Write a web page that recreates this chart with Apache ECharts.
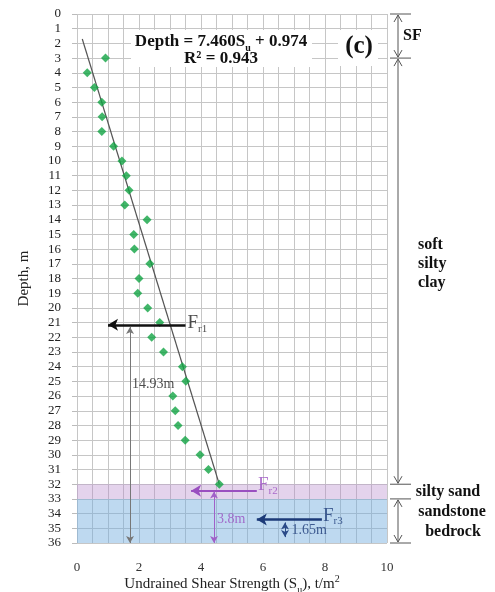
<!DOCTYPE html>
<html>
<head>
<meta charset="utf-8">
<script src="https://cdn.jsdelivr.net/npm/echarts@6/dist/echarts.min.js"></script>
<style>
html,body{margin:0;padding:0;background:#fff;}
#main{width:495px;height:592px;}
</style>
</head>
<body>
<div id="main"></div>
<script>
// measured points: depth (m) and undrained shear strength Su (t/m2)
var depths = [3,4,5,6,7,8,9,10,11,12,13,14,15,16,17,18,19,20,21,22,23,24,25,26,27,28,29,30,31,32];
var su = [0.92,0.33,0.56,0.80,0.81,0.80,1.18,1.45,1.59,1.68,1.54,2.26,1.83,1.85,2.35,2.00,1.96,2.28,2.67,2.41,2.79,3.40,3.51,3.09,3.17,3.26,3.49,3.97,4.24,4.59];

// trend line ends as drawn
var trendSu = [0.17, 4.59];
var trendDepth = [1.7, 32];

// soil layers (depth ranges)
var sandLayer = [32, 33];
var rockLayer = [33, 36];

// force arrows [fromSu, toSu, depth]
var fr1 = [3.5, 1.0, 21.15];
var fr2 = [5.8, 3.68, 32.45];
var fr3 = [7.9, 5.8, 34.4];
// dimension arrows [su, fromDepth, toDepth]
var dim1 = [1.71, 21.3, 36];
var dim2 = [4.42, 32.5, 36];
var dim3 = [6.71, 34.6, 35.6];

// right side brackets
var bracketTicks = [0, 3, 32, 33, 36];
var brackets = [[0, 3], [3, 32], [33, 36]];

var serif = 'Liberation Serif';

var data = [];
for (var i = 0; i < depths.length; i++) {
    data.push([su[i], depths[i]]);
}

function arrowLine(a, color, width, both) {
    return [
        {coord: [a[0], a[2]], symbol: both ? 'arrow' : 'none', lineStyle: {color: color, width: width, type: 'solid'}},
        {coord: [a[1], a[2]], symbol: 'arrow'}
    ];
}
function dimLine(d, color, width) {
    return [
        {coord: [d[0], d[1]], symbol: 'arrow', lineStyle: {color: color, width: width, type: 'solid'}},
        {coord: [d[0], d[2]], symbol: 'arrow'}
    ];
}

function textPoint(x, y, fmt, rich, pos) {
    return {
        type: 'scatter',
        data: [[x, y]],
        symbolSize: 1,
        itemStyle: {color: 'rgba(0,0,0,0)'},
        silent: true,
        z: 6,
        label: {show: true, position: pos || 'right', distance: 0, formatter: fmt, rich: rich}
    };
}

function fRich(color) {
    return {
        f: {fontFamily: serif, fontSize: 19, color: color, lineHeight: 20, verticalAlign: 'bottom'},
        s: {fontFamily: serif, fontSize: 11, color: color, lineHeight: 11, verticalAlign: 'bottom', padding: [0, 0, -2, 0]}
    };
}
function mRich(color) {
    return {m: {fontFamily: serif, fontSize: 14, color: color}};
}

var option = {
    animation: false,
    grid: {left: 77, right: 108, top: 14, bottom: 49, outerBoundsMode: 'none', containLabel: false},
    xAxis: {
        type: 'value', min: 0, max: 10, interval: 0.5,
        name: '{n|Undrained Shear Strength (S}{s|u}{n|), t/m}{p|2}',
        nameLocation: 'middle', nameGap: 31, nameMoveOverlap: false,
        nameTextStyle: {
            rich: {
                n: {fontFamily: serif, fontSize: 15, color: '#222', lineHeight: 18, verticalAlign: 'bottom'},
                s: {fontFamily: serif, fontSize: 10, color: '#222', lineHeight: 10, verticalAlign: 'bottom', padding: [0, 0, -3, 0]},
                p: {fontFamily: serif, fontSize: 10, color: '#222', lineHeight: 18, verticalAlign: 'top'}
            }
        },
        axisLine: {show: false},
        axisTick: {show: false},
        axisLabel: {
            margin: 18, fontFamily: serif, fontSize: 13, color: '#333',
            formatter: function (v) { return v % 2 === 0 ? v : ''; }
        },
        splitLine: {show: true, lineStyle: {color: '#c6c6c6', width: 1}}
    },
    yAxis: {
        type: 'value', min: 0, max: 36, interval: 1, inverse: true,
        name: 'Depth, m', nameLocation: 'middle', nameGap: 45, nameMoveOverlap: false,
        nameTextStyle: {fontFamily: serif, fontSize: 15, color: '#222'},
        axisLine: {show: false},
        axisTick: {show: true, length: 5, lineStyle: {color: '#bbb'}},
        axisLabel: {margin: 16, fontFamily: serif, fontSize: 13, color: '#222'},
        splitLine: {show: true, lineStyle: {color: '#c6c6c6', width: 1}}
    },
    series: [
        {
            type: 'line',
            data: [],
            markArea: {
                silent: true,
                data: [
                    [{yAxis: sandLayer[0], itemStyle: {color: 'rgba(185,140,205,0.38)'}}, {yAxis: sandLayer[1]}],
                    [{yAxis: rockLayer[0], itemStyle: {color: 'rgba(110,170,222,0.45)'}}, {yAxis: rockLayer[1]}]
                ]
            }
        },
        {
            type: 'line',
            data: [[trendSu[0], trendDepth[0]], [trendSu[1], trendDepth[1]]],
            showSymbol: false,
            lineStyle: {color: '#555', width: 1.2},
            z: 3
        },
        {
            type: 'scatter',
            data: data,
            symbol: 'diamond',
            symbolSize: 9,
            itemStyle: {color: '#12a444'},
            z: 4
        },
        {
            type: 'scatter',
            data: [],
            markLine: {
                silent: true,
                symbolSize: [9, 10],
                label: {show: false},
                data: [
                    arrowLine(fr1, '#111', 2.5),
                    arrowLine(fr2, '#9a4fc0', 2),
                    arrowLine(fr3, '#1c3a78', 2.5)
                ]
            },
            z: 5
        },
        {
            type: 'scatter',
            data: [],
            markLine: {
                silent: true,
                symbolSize: [6, 7],
                label: {show: false},
                data: [
                    dimLine(dim1, '#777', 1),
                    dimLine(dim2, '#a060c8', 1),
                    dimLine(dim3, '#2a4a88', 1)
                ]
            },
            z: 5
        },
        textPoint(3.55, 21.0, '{f|F}{s|r1}', fRich('#222')),
        textPoint(5.82, 32.05, '{f|F}{s|r2}', fRich('#9a4fc0')),
        textPoint(7.92, 34.1, '{f|F}{s|r3}', fRich('#1c3a78')),
        textPoint(1.76, 25.2, '{m|14.93m}', mRich('#222')),
        textPoint(4.5, 34.4, '{m|3.8m}', mRich('#9a4fc0')),
        textPoint(6.9, 35.15, '{m|1.65m}', mRich('#1c3a78'))
    ]
};

var chart = echarts.init(document.getElementById('main'));
chart.setOption(option);

function px(x, y) {
    return chart.convertToPixel({gridIndex: 0}, [x, y]);
}

var g = [];
// equation box and panel tag
g.push({type: 'rect', shape: {x: 131, y: 30, width: 181, height: 37}, style: {fill: '#fff'}, z: 10});
g.push({type: 'rect', shape: {x: 338, y: 30, width: 40, height: 36}, style: {fill: '#fff'}, z: 10});
g.push({
    type: 'text', x: 221, y: 41, z: 11,
    style: {
        text: '{b|Depth = 7.460S}{s|u}{b| + 0.974}',
        align: 'center', verticalAlign: 'middle',
        rich: {
            b: {fontFamily: serif, fontWeight: 'bold', fontSize: 17, fill: '#111', lineHeight: 18, verticalAlign: 'bottom'},
            s: {fontFamily: serif, fontWeight: 'bold', fontSize: 10, fill: '#111', lineHeight: 10, verticalAlign: 'bottom', padding: [0, 0, -3, 0]}
        }
    }
});
g.push({
    type: 'text', x: 221, y: 59, z: 11,
    style: {text: 'R² = 0.943', align: 'center', verticalAlign: 'middle', fontFamily: serif, fontWeight: 'bold', fontSize: 17, fill: '#111'}
});
g.push({
    type: 'text', x: 359, y: 47, z: 11,
    style: {text: '(c)', align: 'center', verticalAlign: 'middle', fontFamily: serif, fontWeight: 'bold', fontSize: 25, fill: '#111'}
});

// right side brackets
var bx = px(10, 0)[0] + 11;
var bcol = '#555';
bracketTicks.forEach(function (d) {
    var y = px(10, d)[1];
    g.push({type: 'line', shape: {x1: bx - 8, y1: y, x2: bx + 13, y2: y}, style: {stroke: bcol, lineWidth: 1}});
});
brackets.forEach(function (b) {
    var y1 = px(10, b[0])[1] + 1, y2 = px(10, b[1])[1] - 1;
    g.push({type: 'line', shape: {x1: bx, y1: y1, x2: bx, y2: y2}, style: {stroke: bcol, lineWidth: 1}});
    g.push({type: 'polyline', shape: {points: [[bx - 4, y1 + 7], [bx, y1], [bx + 4, y1 + 7]]}, style: {stroke: bcol, lineWidth: 1, fill: null}});
    g.push({type: 'polyline', shape: {points: [[bx - 4, y2 - 7], [bx, y2], [bx + 4, y2 - 7]]}, style: {stroke: bcol, lineWidth: 1, fill: null}});
});

// layer names
var layerNames = ['SF', 'soft\nsilty\nclay', 'silty sand', 'sandstone', 'bedrock'];
var layerDepths = [1.5, 17.0, 32.5, 33.9, 35.25];
var layerX = [bx + 5, bx + 20, bx + 50, bx + 54, bx + 55];
var layerAlign = ['left', 'left', 'center', 'center', 'center'];
for (var k = 0; k < layerNames.length; k++) {
    g.push({
        type: 'text', x: layerX[k], y: px(10, layerDepths[k])[1], z: 11,
        style: {
            text: layerNames[k], align: layerAlign[k], verticalAlign: 'middle',
            fontFamily: serif, fontWeight: 'bold', fontSize: 16, lineHeight: 19, fill: '#111'
        }
    });
}

chart.setOption({graphic: g});
</script>
</body>
</html>
